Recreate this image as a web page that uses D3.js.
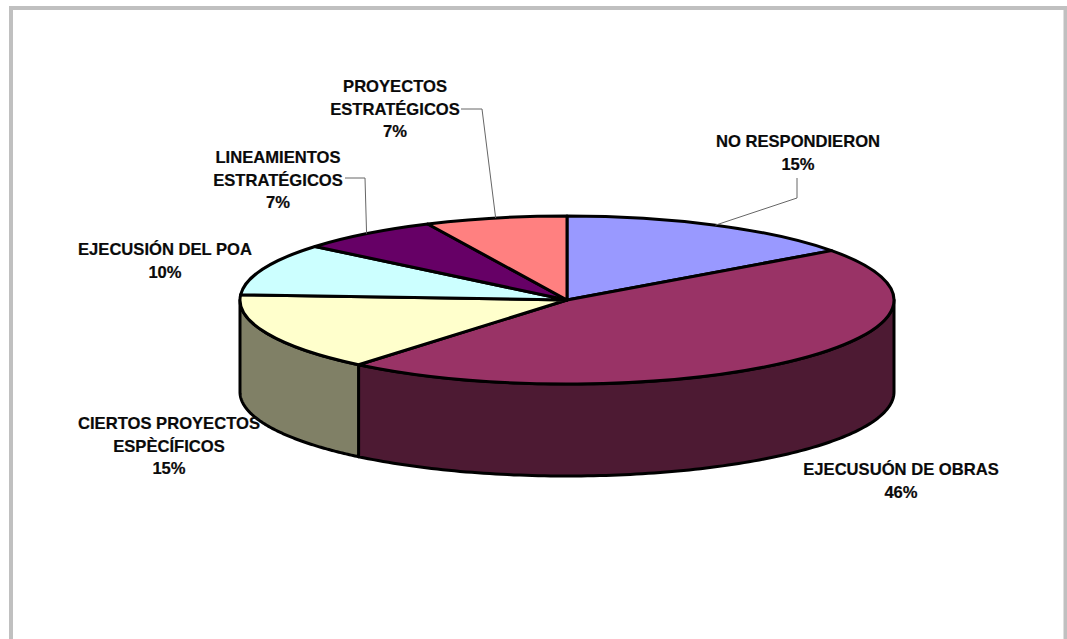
<!DOCTYPE html>
<html lang="es">
<head>
<meta charset="utf-8">
<title>Distribución de respuestas</title>
<script src="https://cdn.jsdelivr.net/npm/d3@7/dist/d3.min.js"></script>
<style>
  html, body { margin: 0; padding: 0; background: #fff; }
  svg { display: block; }
  text { font-family: "Liberation Sans", Arial, sans-serif; font-weight: 700; font-size: 16.6px; fill: #0a0a0a; text-anchor: middle; stroke: #0a0a0a; stroke-width: 0.2px; }
</style>
</head>
<body>
<svg id="chart" width="1067" height="639"></svg>
<script>
// Survey answers, clockwise from twelve o'clock
const categories = [
  ["NO RESPONDIERON"],
  ["EJECUSUÓN DE OBRAS"],
  ["CIERTOS PROYECTOS", "ESPÈCÍFICOS"],
  ["EJECUSIÓN DEL POA"],
  ["LINEAMIENTOS", "ESTRATÉGICOS"],
  ["PROYECTOS", "ESTRATÉGICOS"]
];
const shares = [15, 46, 15, 10, 7, 7];
const topColors = ["#9999FF", "#993366", "#FFFFCC", "#CCFFFF", "#660066", "#FF8080"];
const sideColors = ["#4D4D80", "#4D1A33", "#808066", "#668080", "#330033", "#804040"];

// Label placement: centre x and first-line y; elbow is the bend of the leader, if any
const labelCentres = [[798, 147], [901, 475], [169, 429], [165, 255], [278, 163], [395, 92]];
const leaderStarts = [[797, 178], null, null, null, [345, 178], [461, 109]];
const leaderElbows = [[797, 198], null, null, null, [365, 178], [482, 109]];

const cx = 567, cy = 300, rx = 327, ry = 84, depth = 92, R = 100, lineGap = 22.7;

const svg = d3.select("#chart");

// Page frame: grey rule along the top and both sides
const frame = d3.path();
frame.moveTo(11, 639);
frame.lineTo(11, 8);
frame.lineTo(1065.5, 8);
frame.lineTo(1065.5, 639);
svg.append("path").attr("d", frame.toString())
  .attr("fill", "none").attr("stroke", "#c0c0c0").attr("stroke-width", 4);

const slices = d3.pie().sort(null).value(d => d)(shares);
const plot = svg.append("g").attr("transform", `translate(${cx},${cy})`);

const ellipseX = a => rx * Math.sin(a);
const ellipseY = a => -ry * Math.cos(a);

// Front wall of the disc: the part of each slice between 90° and 270°
const wall = d3.area()
  .x(ellipseX)
  .y0(ellipseY)
  .y1(a => ellipseY(a) + depth);

slices.forEach((s, i) => {
  const from = Math.max(s.startAngle, Math.PI / 2);
  const to = Math.min(s.endAngle, 3 * Math.PI / 2);
  if (to <= from) return;
  const steps = d3.range(0, 121).map(k => from + (to - from) * k / 120);
  plot.append("path")
    .attr("d", wall(steps))
    .attr("fill", sideColors[i])
    .attr("stroke", "#000")
    .attr("stroke-width", 3)
    .attr("stroke-linejoin", "round");
});

// Top face: circular arcs squashed into the ellipse
const arc = d3.arc().innerRadius(0).outerRadius(R);
plot.append("g")
  .attr("transform", `scale(${rx / R},${ry / R})`)
  .selectAll("path")
  .data(slices)
  .join("path")
  .attr("d", arc)
  .attr("fill", (d, i) => topColors[i])
  .attr("stroke", "#000")
  .attr("stroke-width", 3)
  .attr("stroke-linejoin", "round")
  .attr("vector-effect", "non-scaling-stroke");

// Leader lines run from the label to the rim at the slice's middle angle
const leader = d3.line();
slices.forEach((s, i) => {
  if (!leaderStarts[i]) return;
  const mid = (s.startAngle + s.endAngle) / 2;
  const rim = [cx + ellipseX(mid), cy + ellipseY(mid)];
  svg.append("path")
    .attr("d", leader([leaderStarts[i], leaderElbows[i], rim]))
    .attr("fill", "none")
    .attr("stroke", "#666")
    .attr("stroke-width", 1);
});

// Category name lines followed by the percentage
const labels = svg.append("g");
categories.forEach((lines, i) => {
  const t = labels.append("text").attr("transform", `translate(${labelCentres[i][0]},${labelCentres[i][1]})`);
  [...lines, shares[i] + "%"].forEach((line, j) => {
    t.append("tspan").attr("x", 0).attr("y", j * lineGap).text(line);
  });
});
</script>
</body>
</html>
